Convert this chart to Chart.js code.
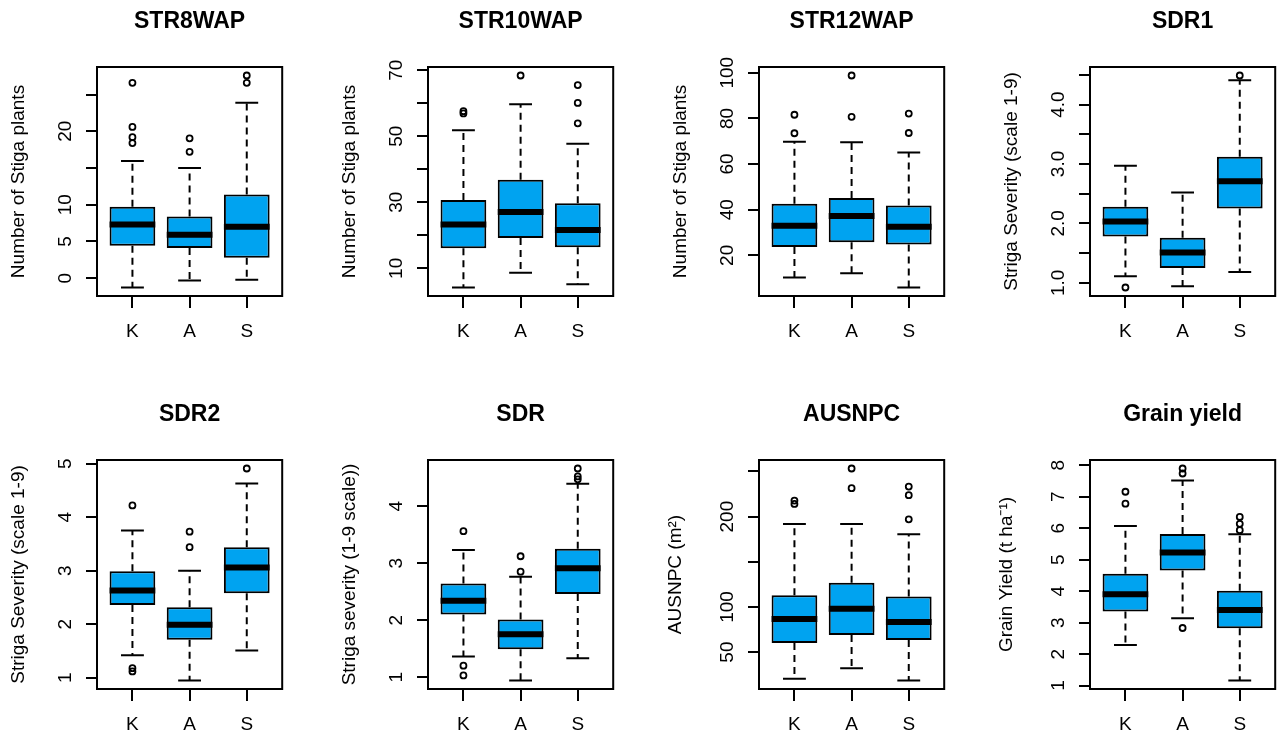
<!DOCTYPE html>
<html>
<head>
<meta charset="utf-8">
<script src="https://cdn.jsdelivr.net/npm/chart.js@4.4.0/dist/chart.umd.min.js"></script>
<style>
  html, body { margin: 0; padding: 0; background: #fff; width: 1280px; height: 732px; overflow: hidden; }
  .panel { position: absolute; width: 288px; height: 345px; }
</style>
</head>
<body>
<div id="wrap"></div>
<script>
Chart.defaults.font.family = '"Liberation Sans", Arial, sans-serif';
Chart.defaults.color = '#000';

// groups and panels
const groups = ['K', 'A', 'S'];
const panelTitles = ['STR8WAP', 'STR10WAP', 'STR12WAP', 'SDR1', 'SDR2', 'SDR', 'AUSNPC', 'Grain yield'];
const axisTitles = ['Number of Stiga plants', 'Number of Stiga plants', 'Number of Stiga plants',
  'Striga Severity (scale 1-9)', 'Striga Severity (scale 1-9)', 'Striga severity (1-9 scale))',
  'AUSNPC (m\u00B2)', 'Grain Yield (t ha\u207B\u00B9)'];

// box statistics, one row per panel, order K, A, S
const whiskerLow = [[-1.27, -0.3, -0.2], [4.2, 8.7, 5.2], [10.3, 12.1, 5.9], [1.11, 0.94, 1.18],
  [1.42, 0.95, 1.51], [1.36, 0.94, 1.33], [20.4, 32.2, 18.5], [2.29, 3.14, 1.16]];
const quart1 = [[4.4, 4.1, 2.8], [16.1, 19.2, 16.4], [23.6, 25.7, 24.8], [1.78, 1.25, 2.25],
  [2.36, 1.71, 2.58], [2.10, 1.49, 2.46], [60, 68.9, 63.3], [3.35, 4.66, 2.82]];
const medians = [[7.3, 5.9, 7.0], [23.3, 27.1, 21.6], [33.0, 37.2, 32.5], [2.03, 1.51, 2.71],
  [2.63, 1.99, 3.06], [2.34, 1.75, 2.91], [86.7, 98.1, 83.3], [3.9, 5.23, 3.4]];
const quart3 = [[9.73, 8.4, 11.4], [30.7, 36.8, 29.7], [42.6, 45.1, 41.8], [2.28, 1.76, 3.12],
  [2.99, 2.32, 3.44], [2.64, 2.01, 3.25], [113, 126.7, 111.5], [4.55, 5.82, 4.01]];
const whiskerHigh = [[15.95, 15.0, 23.9], [51.8, 59.7, 47.7], [69.8, 69.5, 65.1], [2.97, 2.52, 4.41],
  [3.75, 3.0, 4.63], [3.23, 2.76, 4.39], [191.9, 191.9, 180.4], [6.07, 7.52, 5.81]];
const outliers = [
  [[26.6, 20.6, 19.2, 18.4], [19.05, 17.2], [27.6, 26.6]],
  [[57.6, 56.9], [68.4], [65.5, 60.1, 53.9]],
  [[81.6, 73.5], [98.8, 80.7], [82.1, 73.6]],
  [[0.92], [], [4.49]],
  [[4.22, 1.18, 1.12], [3.73, 3.44], [4.91]],
  [[3.56, 1.20, 1.03], [3.12, 2.85], [4.66, 4.52, 4.47]],
  [[217.8, 214.1], [253.3, 231.5], [233.3, 223.7, 197.0]],
  [[7.16, 6.78], [7.9, 7.74, 2.83], [6.36, 6.14, 5.94]]
];

// y ticks and their labels ('' = tick mark only)
const yTicks = [[0, 5, 10, 15, 20, 25], [10, 20, 30, 40, 50, 60, 70], [20, 40, 60, 80, 100],
  [1, 1.5, 2, 2.5, 3, 3.5, 4, 4.5], [1, 2, 3, 4, 5], [1, 2, 3, 4], [50, 100, 150, 200, 250],
  [1, 2, 3, 4, 5, 6, 7, 8]];
const yTickLabels = [['0', '5', '10', '', '20', ''], ['10', '', '30', '', '50', '', '70'],
  ['20', '40', '60', '80', '100'], ['1.0', '', '2.0', '', '3.0', '', '4.0', ''],
  ['1', '2', '3', '4', '5'], ['1', '2', '3', '4'], ['50', '100', '', '200', ''],
  ['1', '2', '3', '4', '5', '6', '7', '8']];

const FONT = '"Liberation Sans", Arial, sans-serif';
const boxBlue = '#00A3F0';

// frame round the plot + vertical y tick labels like R
const rStyle = {
  id: 'rStyle',
  afterDatasetsDraw(chart, args, opts) {
    const {ctx, chartArea: a, scales} = chart;
    const p = opts.panel;
    ctx.save();
    ctx.strokeStyle = '#000';
    ctx.lineWidth = 2;
    ctx.strokeRect(a.left, a.top, a.right - a.left, a.bottom - a.top);
    ctx.font = '19px ' + FONT;
    ctx.fillStyle = '#000';
    ctx.textAlign = 'center';
    ctx.textBaseline = 'middle';
    yTicks[p].forEach((v, i) => {
      if (!yTickLabels[p][i]) return;
      ctx.save();
      ctx.translate(a.left - 31, scales.y.getPixelForValue(v));
      ctx.rotate(-Math.PI / 2);
      ctx.fillText(yTickLabels[p][i], 0, 0);
      ctx.restore();
    });
    ctx.restore();
  }
};

function makePanel(p) {
  const div = document.createElement('div');
  div.className = 'panel';
  div.style.left = (331 * (p % 4)) + 'px';
  div.style.top = (p < 4 ? 0 : 393) + 'px';
  const cv = document.createElement('canvas');
  cv.width = 288;
  cv.height = 345;
  div.appendChild(cv);
  document.getElementById('wrap').appendChild(div);

  const boxes = [], med = [], whisk = [], caps = [], pts = [];
  groups.forEach((g, i) => {
    const x = i + 1;
    boxes.push({x: x, y: [quart1[p][i], quart3[p][i]]});
    med.push({x: x - 0.4, y: medians[p][i]}, {x: x + 0.4, y: medians[p][i]}, {x: x + 0.5, y: null});
    whisk.push({x: x, y: quart3[p][i]}, {x: x, y: whiskerHigh[p][i]}, {x: x, y: null},
      {x: x, y: quart1[p][i]}, {x: x, y: whiskerLow[p][i]}, {x: x, y: null});
    caps.push({x: x - 0.2, y: whiskerHigh[p][i]}, {x: x + 0.2, y: whiskerHigh[p][i]}, {x: x + 0.2, y: null},
      {x: x - 0.2, y: whiskerLow[p][i]}, {x: x + 0.2, y: whiskerLow[p][i]}, {x: x + 0.2, y: null});
    outliers[p][i].forEach(v => pts.push({x: x, y: v}));
  });

  // y range as in R: data range plus 4% each side
  const all = whiskerLow[p].concat(whiskerHigh[p], outliers[p].flat());
  const lo = Math.min(...all), hi = Math.max(...all);
  const ext = (hi - lo) * 0.04;

  new Chart(cv.getContext('2d'), {
    type: 'bar',
    data: {
      datasets: [
        {type: 'line', data: med, borderColor: '#000', borderWidth: 6, pointRadius: 0, borderCapStyle: 'butt'},
        {type: 'bar', data: boxes, backgroundColor: boxBlue, borderColor: '#000', borderWidth: 2,
          borderSkipped: false, barPercentage: 0.8, categoryPercentage: 1},
        {type: 'line', data: whisk, borderColor: '#000', borderWidth: 2, borderDash: [7, 5], pointRadius: 0},
        {type: 'line', data: caps, borderColor: '#000', borderWidth: 2, pointRadius: 0},
        {type: 'scatter', data: pts, pointStyle: 'circle', pointRadius: 3, borderWidth: 1.8,
          borderColor: '#000', backgroundColor: 'rgba(0,0,0,0)'}
      ]
    },
    options: {
      responsive: false,
      animation: false,
      events: [],
      layout: {padding: {left: 0, right: 3, top: 0, bottom: 0}},
      scales: {
        x: {
          type: 'linear', min: 0.38, max: 3.62, offset: false,
          afterBuildTicks: s => { s.ticks = groups.map((g, i) => ({value: i + 1})); },
          afterFit: s => { s.height = 49; },
          ticks: {autoSkip: false, maxRotation: 0, padding: 12, color: '#000',
            font: {size: 19}, callback: (v, i) => groups[i]},
          grid: {offset: false, drawOnChartArea: false, tickLength: 12, color: '#000', lineWidth: 2},
          border: {display: false}
        },
        y: {
          type: 'linear', min: lo - ext, max: hi + ext,
          afterBuildTicks: s => { s.ticks = yTicks[p].map(v => ({value: v})); },
          afterFit: s => { s.width = 97; },
          ticks: {display: false},
          grid: {drawOnChartArea: false, tickLength: 11, color: '#000', lineWidth: 2},
          border: {display: false},
          title: {display: true, text: axisTitles[p], color: '#000', font: {size: 19},
            padding: {top: p >= 6 ? 2 : 7, bottom: 0}}
        }
      },
      plugins: {
        legend: {display: false},
        tooltip: {enabled: false},
        title: {display: true, text: panelTitles[p], fullSize: false, color: '#000',
          font: {size: 23, weight: 'bold'}, padding: {top: 8, bottom: 31.4}},
        rStyle: {panel: p}
      }
    },
    plugins: [rStyle]
  });
}

for (let p = 0; p < panelTitles.length; p++) makePanel(p);
</script>
</body>
</html>
